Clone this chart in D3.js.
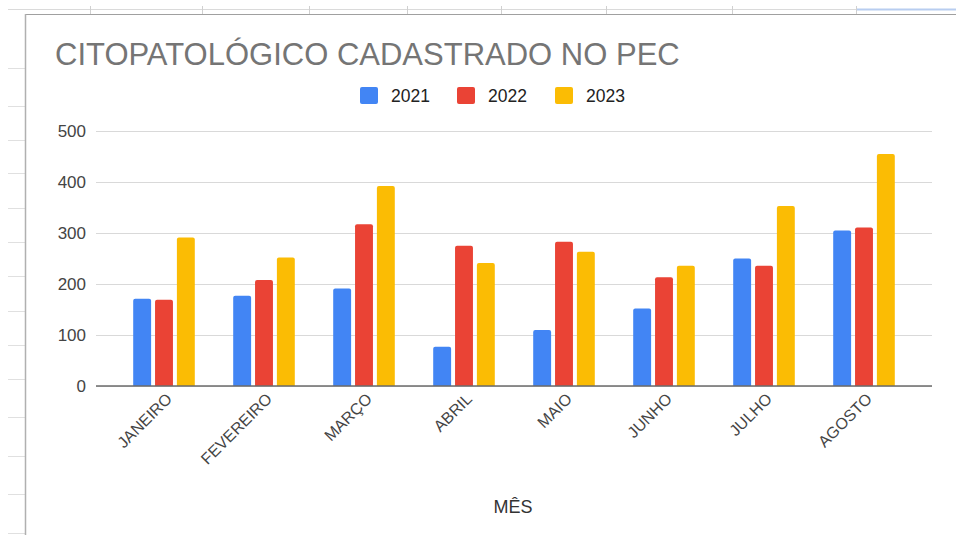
<!DOCTYPE html>
<html>
<head>
<meta charset="utf-8">
<title>Citopatológico cadastrado no PEC</title>
<style>
  body { margin: 0; background: #fff; }
  svg { display: block; font-family: "Liberation Sans", Arial, sans-serif; }
  .tick text { fill: #444; font-size: 17px; }
</style>
</head>
<body>
<div id="chart"></div>
<script src="https://cdn.jsdelivr.net/npm/d3@7"></script>
<script>
(function (d3) {
  'use strict';

  var months = ['JANEIRO', 'FEVEREIRO', 'MARÇO', 'ABRIL', 'MAIO', 'JUNHO', 'JULHO', 'AGOSTO'];
  var series = ['2021', '2022', '2023'];
  var v2021 = [171, 177, 191, 77, 110, 152, 250, 305];
  var v2022 = [169, 208, 317, 275, 283, 213, 236, 311];
  var v2023 = [291, 252, 392, 241, 263, 236, 353, 455];
  var yTicks = [0, 100, 200, 300, 400, 500];
  var colors = ['#4285f4', '#ea4335', '#fbbc04'];

  // spreadsheet lines behind the chart
  var sheetCols = [90, 202, 309, 407, 501, 606, 732, 856];
  var sheetRows = [68, 106, 140, 173, 208, 242, 276, 311, 345, 379, 417, 456, 494, 533];

  var width = 956, height = 535;
  var values = [v2021, v2022, v2023];
  var data = months.map(function (m, i) {
    return { month: m, vals: series.map(function (s, j) { return { key: s, value: values[j][i] }; }) };
  });

  var svg = d3.select('#chart').append('svg')
    .attr('width', width).attr('height', height);

  // sheet decoration
  svg.append('line').attr('x1', 8).attr('x2', 856).attr('y1', 9.5).attr('y2', 9.5)
    .attr('stroke', '#dadada');
  svg.append('line').attr('x1', 856).attr('x2', 956).attr('y1', 9.5).attr('y2', 9.5)
    .attr('stroke', '#b8cdf0').attr('stroke-width', 2);
  svg.selectAll('.scol').data(sheetCols).enter().append('line')
    .attr('x1', function (d) { return d + 0.5; }).attr('x2', function (d) { return d + 0.5; })
    .attr('y1', 6).attr('y2', 14).attr('stroke', '#d0d0d0');
  svg.selectAll('.srow').data(sheetRows).enter().append('line')
    .attr('x1', 8).attr('x2', 25).attr('y1', function (d) { return d + 0.5; })
    .attr('y2', function (d) { return d + 0.5; }).attr('stroke', '#e0e0e0');
  svg.append('line').attr('x1', 25.5).attr('x2', 956).attr('y1', 14.5).attr('y2', 14.5)
    .attr('stroke', '#a0a0a0');
  svg.append('line').attr('x1', 25.5).attr('x2', 25.5).attr('y1', 14).attr('y2', 535)
    .attr('stroke', '#b0b0b0').attr('stroke-width', 1.5);

  // title
  svg.append('text').attr('x', 55).attr('y', 65)
    .attr('fill', '#757575').style('font-size', '31px')
    .text('CITOPATOLÓGICO CADASTRADO NO PEC');

  // scales
  var x0 = d3.scaleBand().domain(months).range([114, 914]).paddingInner(0.384).paddingOuter(0.192);
  var x1 = d3.scaleBand().domain(series).range([0, x0.bandwidth()]).paddingInner(0.18);
  var y = d3.scaleLinear().domain([0, 500]).range([386, 131]);

  // gridlines + y axis
  var yAxis = svg.append('g')
    .attr('transform', 'translate(96,0)')
    .call(d3.axisLeft(y).tickValues(yTicks).tickSize(-836).tickPadding(10).tickFormat(d3.format('d')));
  yAxis.select('.domain').remove();
  yAxis.selectAll('.tick line').attr('stroke', '#d9d9d9');
  yAxis.selectAll('.tick text').attr('x', -10).style('text-anchor', 'end');

  // bars
  var groups = svg.selectAll('.grp').data(data).enter().append('g')
    .attr('transform', function (d) { return 'translate(' + x0(d.month) + ',0)'; });
  groups.selectAll('path').data(function (d) { return d.vals; }).enter().append('path')
    .attr('fill', function (d, i) { return colors[i]; })
    .attr('d', function (d) {
      var bx = x1(d.key), bw = x1.bandwidth(), top = y(d.value), bot = y(0), r = 2;
      return 'M' + bx + ',' + bot + 'V' + (top + r) + 'Q' + bx + ',' + top + ' ' + (bx + r) + ',' + top +
        'H' + (bx + bw - r) + 'Q' + (bx + bw) + ',' + top + ' ' + (bx + bw) + ',' + (top + r) + 'V' + bot + 'Z';
    });

  // baseline
  svg.append('line').attr('x1', 96).attr('x2', 932).attr('y1', y(0)).attr('y2', y(0))
    .attr('stroke', '#6b6b6b').attr('stroke-width', 1.5);

  // x labels
  svg.selectAll('.xlab').data(months).enter().append('text')
    .attr('transform', function (d) {
      return 'translate(' + (x0(d) + x0.bandwidth() / 2 + 9) + ',' + 400 + ') rotate(-45)';
    })
    .attr('text-anchor', 'end').attr('fill', '#444').style('font-size', '16px')
    .text(function (d) { return d; });

  svg.append('text').attr('x', 513).attr('y', 513).attr('text-anchor', 'middle')
    .attr('fill', '#333').style('font-size', '18px').text('MÊS');

  // legend
  var legX = [360, 457, 555];
  var legend = svg.selectAll('.legend').data(series).enter().append('g')
    .attr('transform', function (d, i) { return 'translate(' + legX[i] + ',87)'; });
  legend.append('rect').attr('width', 18).attr('height', 17).attr('rx', 2)
    .attr('fill', function (d, i) { return colors[i]; });
  legend.append('text').attr('x', 31).attr('y', 15).attr('fill', '#222')
    .style('font-size', '17.5px').text(function (d) { return d; });
})(window.d3);
</script>
</body>
</html>
